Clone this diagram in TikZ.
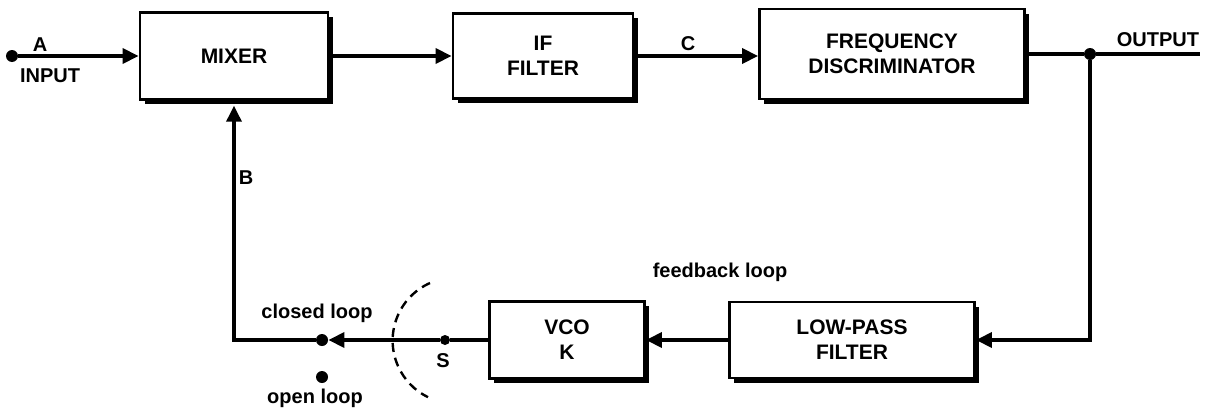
\documentclass[tikz,border=0pt]{standalone}
\usepackage{fontspec}
\setmainfont{Liberation Sans}
\usepackage{tikz}
\usetikzlibrary{arrows.meta,shadows}
\tikzset{
  pLine/.style={line width=1.7pt,line join=miter},
  pArrow/.style={pLine,-{Triangle[length=8pt,width=7.5pt]}},
  pBox/.style={draw,line width=1.4pt,fill=white,align=center,
        font=\bfseries\fontsize{10.5}{12.5}\selectfont,
        drop shadow={shadow xshift=2.4pt,shadow yshift=-2.4pt,fill=black,opacity=1}},
  pDot/.style={circle,fill,inner sep=0pt,minimum size=6pt},
  pLabel/.style={font=\bfseries\fontsize{10}{12}\selectfont,inner sep=1pt},
}
\begin{document}
\begin{tikzpicture}[x=0.5pt,y=-0.5pt]
\useasboundingbox (0,0) rectangle (1215,407);
\node[pBox,minimum width=94pt,minimum height=43.5pt]   (mix) at (234,56)  {MIXER};
\node[pBox,minimum width=90pt,minimum height=42.5pt]   (iff) at (543,56)  {IF\\FILTER};
\node[pBox,minimum width=132.5pt,minimum height=45pt]  (fd)  at (892,54)  {FREQUENCY\\DISCRIMINATOR};
\node[pBox,minimum width=122.5pt,minimum height=38pt]  (lpf) at (852,340) {LOW-PASS\\FILTER};
\node[pBox,minimum width=77.5pt,minimum height=38.5pt] (vco) at (567,340) {VCO\\K};
\node[pDot] (in) at (12,56) {};
\node[pDot] (jn) at (1090,54) {};
\coordinate (out) at (1200,54);
\node[pDot,minimum size=5pt] (s) at (445,340) {};
\node[pDot] (cl) at (322,340) {};
\node[pDot] (ol) at (322,377) {};
\node[pLabel] (lA)   at (40,45)    {A};
\node[pLabel] (lIn)  at (50,76)    {INPUT};
\node[pLabel] (lC)   at (688,44)   {C};
\node[pLabel] (lOut) at (1158,40)  {OUTPUT};
\node[pLabel] (lB)   at (246,178)  {B};
\node[pLabel] (lS)   at (443,361)  {S};
\node[pLabel] (lFb)  at (720,272)  {feedback loop};
\node[pLabel] (lCl)  at (317,313)  {closed loop};
\node[pLabel] (lOl)  at (315,398)  {open loop};
\draw[pArrow] (in) -- (mix.west);
\draw[pArrow] (mix.east) -- (iff.west);
\draw[pArrow] (iff.east) -- (iff.east -| fd.west);
\draw[pLine] (fd.east) -- (jn) -- (out);
\draw[pArrow] (jn) |- (lpf.east);
\draw[pArrow] (lpf.west) -- (vco.east);
\draw[pLine] (vco.west) -- (s);
\draw[pArrow] (s) -- (cl);
\draw[pArrow] (cl) -| ([yshift=-2.4pt]mix.south);
\draw[line width=1.2pt,dash pattern=on 4.5pt off 3pt] (430,283) arc[start angle=114,end angle=244,radius=31.5pt];
\end{tikzpicture}
\end{document}
